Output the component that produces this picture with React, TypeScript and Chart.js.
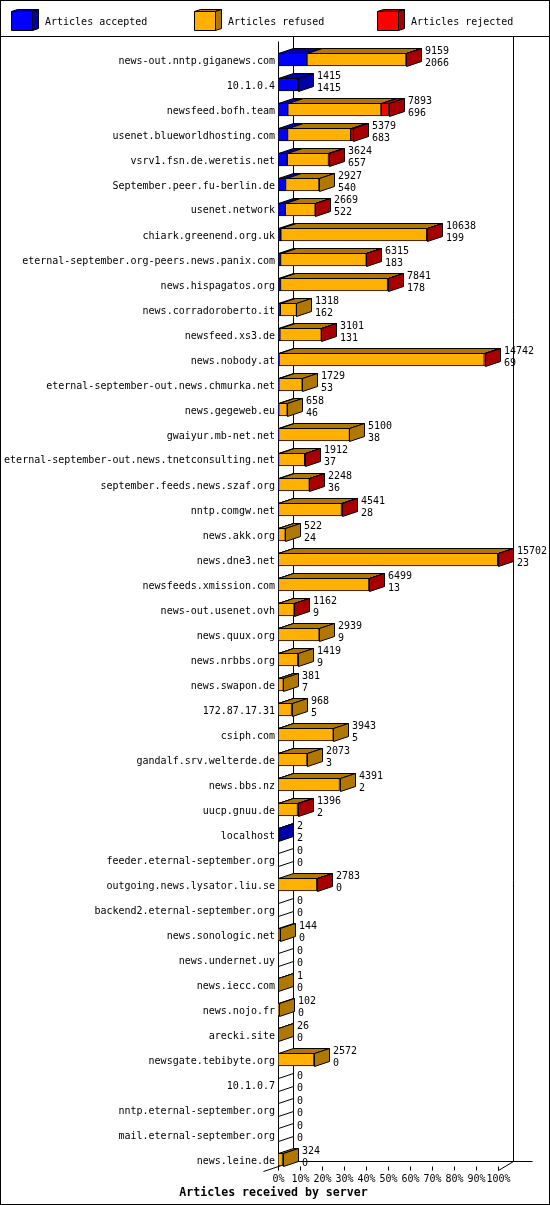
import React, { useEffect, useRef } from "react";
import { Chart, registerables } from "chart.js";

Chart.register(...registerables);

const servers = [
  "news-out.nntp.giganews.com", "10.1.0.4", "newsfeed.bofh.team", "usenet.blueworldhosting.com",
  "vsrv1.fsn.de.weretis.net", "September.peer.fu-berlin.de", "usenet.network", "chiark.greenend.org.uk",
  "eternal-september.org-peers.news.panix.com", "news.hispagatos.org", "news.corradoroberto.it",
  "newsfeed.xs3.de", "news.nobody.at", "eternal-september-out.news.chmurka.net", "news.gegeweb.eu",
  "gwaiyur.mb-net.net", "eternal-september-out.news.tnetconsulting.net", "september.feeds.news.szaf.org",
  "nntp.comgw.net", "news.akk.org", "news.dne3.net", "newsfeeds.xmission.com", "news-out.usenet.ovh",
  "news.quux.org", "news.nrbbs.org", "news.swapon.de", "172.87.17.31", "csiph.com",
  "gandalf.srv.welterde.de", "news.bbs.nz", "uucp.gnuu.de", "localhost", "feeder.eternal-september.org",
  "outgoing.news.lysator.liu.se", "backend2.eternal-september.org", "news.sonologic.net",
  "news.undernet.uy", "news.iecc.com", "news.nojo.fr", "arecki.site", "newsgate.tebibyte.org",
  "10.1.0.7", "nntp.eternal-september.org", "mail.eternal-september.org", "news.leine.de",
];

const totals = [
  9159, 1415, 7893, 5379, 3624, 2927, 2669, 10638, 6315, 7841, 1318, 3101, 14742, 1729, 658,
  5100, 1912, 2248, 4541, 522, 15702, 6499, 1162, 2939, 1419, 381, 968, 3943, 2073, 4391,
  1396, 2, 0, 2783, 0, 144, 0, 1, 102, 26, 2572, 0, 0, 0, 324,
];

const accepted = [
  2066, 1415, 696, 683, 657, 540, 522, 199, 183, 178, 162, 131, 69, 53, 46,
  38, 37, 36, 28, 24, 23, 13, 9, 9, 9, 7, 5, 5, 3, 2,
  2, 2, 0, 0, 0, 0, 0, 0, 0, 0, 0, 0, 0, 0, 0,
];

const rejected = [
  20, 0, 540, 190, 20, 0, 15, 20, 15, 20, 0, 10, 20, 0, 0,
  0, 10, 10, 10, 0, 20, 10, 10, 0, 0, 0, 0, 0, 0, 0,
  5, 0, 0, 10, 0, 0, 0, 0, 0, 0, 0, 0, 0, 0, 0,
];

const refused = totals.map((t, i) => t - accepted[i] - rejected[i]);

const xTickLabels = ["0%", "10%", "20%", "30%", "40%", "50%", "60%", "70%", "80%", "90%", "100%"];
const legendLabels = ["Articles accepted", "Articles refused", "Articles rejected"];
const chartTitle = "Articles received by server";

const FRONT = ["#0000ff", "#ffb000", "#ff0000"];
const DARK = ["#0000a8", "#b07800", "#a80000"];
const FONT = "10px 'DejaVu Sans Mono'";
const DX = 15;
const DY = 5;

function poly(ctx: CanvasRenderingContext2D, pts: number[][], fill: string | null) {
  ctx.beginPath();
  pts.forEach((p, i) => {
    const x = Math.round(p[0]) + 0.5;
    const y = Math.round(p[1]) + 0.5;
    if (i === 0) ctx.moveTo(x, y);
    else ctx.lineTo(x, y);
  });
  ctx.closePath();
  if (fill) {
    ctx.fillStyle = fill;
    ctx.fill();
  }
  ctx.strokeStyle = "#000";
  ctx.lineWidth = 1;
  ctx.stroke();
}

function line(ctx: CanvasRenderingContext2D, x1: number, y1: number, x2: number, y2: number) {
  ctx.beginPath();
  ctx.moveTo(Math.round(x1) + 0.5, Math.round(y1) + 0.5);
  ctx.lineTo(Math.round(x2) + 0.5, Math.round(y2) + 0.5);
  ctx.strokeStyle = "#000";
  ctx.lineWidth = 1;
  ctx.stroke();
}

const gdPlugin = {
  id: "gd3d",
  beforeDraw(chart: any) {
    const ctx = chart.ctx as CanvasRenderingContext2D;
    ctx.save();
    ctx.fillStyle = "#fff";
    ctx.fillRect(0, 0, chart.width, chart.height);
    ctx.restore();
  },
  beforeDatasetsDraw(chart: any) {
    const ctx = chart.ctx as CanvasRenderingContext2D;
    const xs = chart.scales.x;
    const ys = chart.scales.y;
    const n = servers.length;
    const left = Math.round(xs.getPixelForValue(0));
    const right = Math.round(xs.getPixelForValue(100));
    const frontBottom = Math.round(ys.getPixelForValue(n - 1) + 6.5);
    const backBottom = frontBottom - DY;
    const backTop = 36;
    ctx.save();
    // back wall
    line(ctx, left + DX, backTop, left + DX, backBottom);
    line(ctx, right + DX, backTop, right + DX, backBottom);
    line(ctx, left + DX, backBottom, right + DX + 19, backBottom);
    // floor edges
    line(ctx, left - DX, frontBottom + DY, left + DX, backBottom);
    line(ctx, right, frontBottom + 4, right + DX, backBottom);
    // front vertical axis
    line(ctx, left, backTop + DY, left, frontBottom);
    // ticks and labels
    ctx.font = FONT;
    ctx.fillStyle = "#000";
    ctx.textAlign = "center";
    ctx.textBaseline = "alphabetic";
    xTickLabels.forEach((lab, i) => {
      const x = Math.round(xs.getPixelForValue(i * 10));
      line(ctx, x, frontBottom, x, frontBottom + 4);
      ctx.fillText(lab, x + 0.5, frontBottom + 16);
    });
    ctx.restore();
  },
  afterDatasetsDraw(chart: any) {
    const ctx = chart.ctx as CanvasRenderingContext2D;
    const metas = [0, 1, 2].map((d) => chart.getDatasetMeta(d));
    const series = [accepted, refused, rejected];
    ctx.save();
    for (let i = 0; i < servers.length; i++) {
      let last = -1;
      let endX = 0;
      let top = 0;
      let bottom = 0;
      let baseX = 0;
      for (let d = 0; d < 3; d++) {
        const el: any = metas[d].data[i];
        const p = el.getProps(["x", "y", "base", "height"], true);
        top = p.y - p.height / 2;
        bottom = p.y + p.height / 2;
        if (d === 0) baseX = Math.min(p.base, p.x);
        if (series[d][i] > 0) {
          const x0 = Math.min(p.base, p.x);
          const x1 = Math.max(p.base, p.x);
          poly(ctx, [[x0, top], [x1, top], [x1 + DX, top - DY], [x0 + DX, top - DY]], DARK[d]);
          last = d;
          endX = x1;
        }
      }
      const sx = last >= 0 ? endX : baseX;
      poly(
        ctx,
        [[sx, top], [sx + DX, top - DY], [sx + DX, bottom - DY], [sx, bottom]],
        last >= 0 ? DARK[last] : "#fff"
      );
      // value labels
      const cy = (top + bottom) / 2;
      ctx.font = FONT;
      ctx.fillStyle = "#000";
      ctx.textAlign = "left";
      ctx.textBaseline = "alphabetic";
      const lx = Math.round(sx) + DX + 4;
      ctx.fillText(String(totals[i]), lx, Math.round(cy - 6));
      ctx.fillText(String(accepted[i]), lx, Math.round(cy + 6));
      // category label
      ctx.textAlign = "right";
      ctx.fillText(servers[i], 275, Math.round(cy + 4));
    }
    // legend
    legendLabels.forEach((lab, k) => {
      const bx = 11 + k * 183;
      const by = 11;
      const w = 21;
      const h = 19;
      poly(ctx, [[bx, by], [bx + w, by], [bx + w + 6, by - 2], [bx + 6, by - 2]], DARK[k]);
      poly(ctx, [[bx + w, by], [bx + w + 6, by - 2], [bx + w + 6, by + h - 2], [bx + w, by + h]], DARK[k]);
      poly(ctx, [[bx, by], [bx + w, by], [bx + w, by + h], [bx, by + h]], FRONT[k]);
      ctx.font = FONT;
      ctx.fillStyle = "#000";
      ctx.textAlign = "left";
      ctx.fillText(lab, bx + 34, 25);
    });
    // header separator and frame
    line(ctx, 0, 36, chart.width - 1, 36);
    ctx.strokeStyle = "#000";
    ctx.lineWidth = 1;
    ctx.strokeRect(0.5, 0.5, chart.width - 1, chart.height - 1);
    // title
    ctx.font = "bold 11.6px 'DejaVu Sans Mono'";
    ctx.textAlign = "center";
    ctx.fillStyle = "#000";
    ctx.fillText(chartTitle, 273.5, 1196);
    ctx.restore();
  },
};

export default function App() {
  const ref = useRef<HTMLCanvasElement | null>(null);
  useEffect(() => {
    if (!ref.current) return;
    const maxTotal = Math.max(...totals);
    const pct = (a: number[]) => a.map((v) => (v / maxTotal) * 100);
    const mk = (k: number, values: number[]) => ({
      label: legendLabels[k],
      data: pct(values),
      backgroundColor: FRONT[k],
      borderColor: "#000",
      borderWidth: 1,
      borderSkipped: false,
      barThickness: 13,
      stack: "s",
    });
    const chart = new Chart(ref.current, {
      type: "bar",
      data: {
        labels: servers,
        datasets: [mk(0, accepted), mk(1, refused), mk(2, rejected)] as any,
      },
      options: {
        indexAxis: "y",
        responsive: false,
        animation: false,
        events: [],
        layout: { padding: { left: 278, right: 52, top: 47, bottom: 33 } },
        scales: {
          x: { type: "linear", stacked: true, min: 0, max: 100, display: false },
          y: { type: "category", stacked: true, display: false },
        },
        plugins: { legend: { display: false }, tooltip: { enabled: false }, title: { display: false } },
      } as any,
      plugins: [gdPlugin],
    });
    return () => chart.destroy();
  }, []);
  return (
    <div style={{ position: "absolute", left: 0, top: 0, width: 550, height: 1205, background: "#fff" }}>
      <canvas ref={ref} width={550} height={1205} style={{ display: "block" }} />
    </div>
  );
}
